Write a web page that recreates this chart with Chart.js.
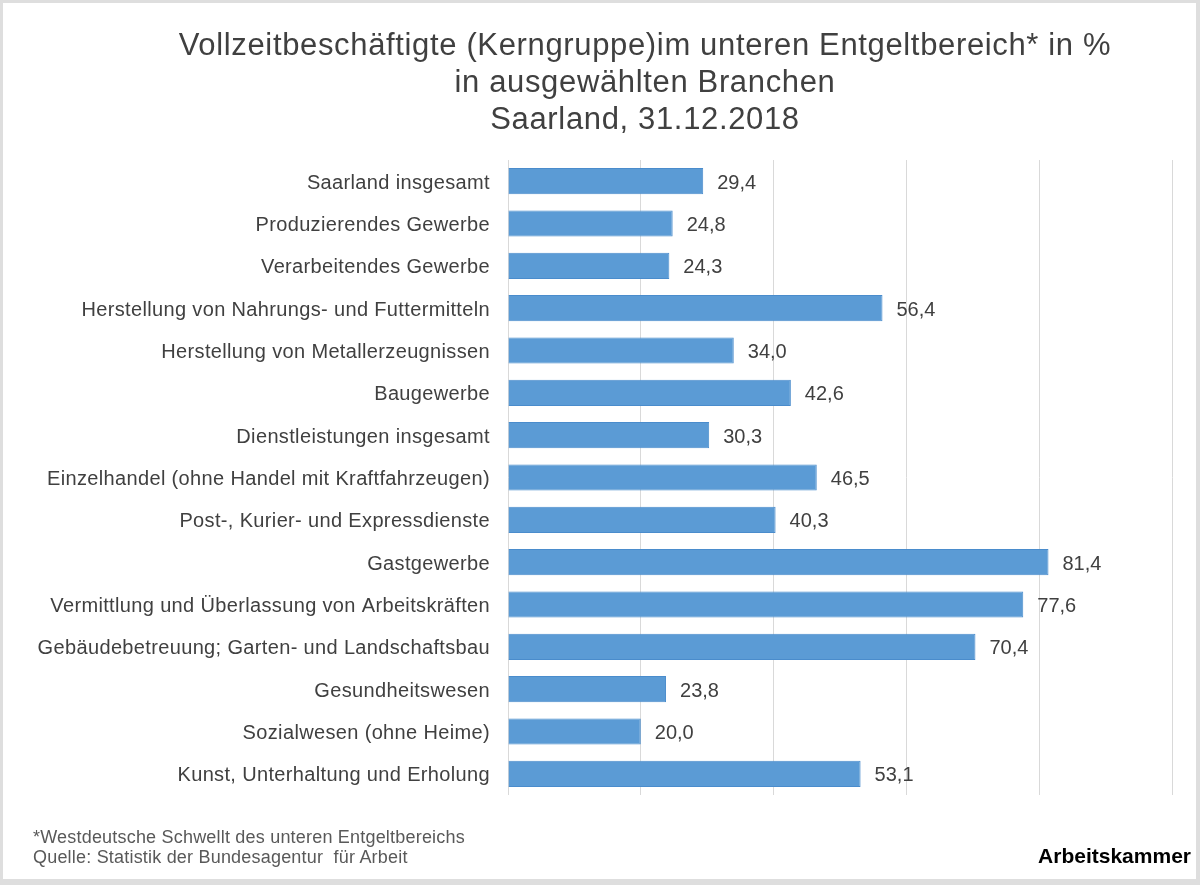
<!DOCTYPE html>
<html lang="de">
<head>
<meta charset="utf-8">
<title>Vollzeitbeschäftigte im unteren Entgeltbereich</title>
<script src="https://cdn.jsdelivr.net/npm/chart.js@4/dist/chart.umd.min.js"></script>
<style>
  html, body { margin: 0; padding: 0; background: #fff; }
  #wrap { position: relative; width: 1200px; height: 885px; overflow: hidden; font-family: "Liberation Sans", Arial, sans-serif; }
  #wrap canvas { position: absolute; left: 0; top: 0; }
  #frame { position: absolute; left: 0; top: 0; width: 1200px; height: 885px; box-sizing: border-box; border: 3px solid #dedede; border-right-width: 4px; border-bottom-width: 6px; pointer-events: none; }
  #title { position: absolute; left: 145px; width: 1000px; top: 26px; text-align: center; color: #404040; font-size: 31px; line-height: 37px; letter-spacing: 0.65px; white-space: nowrap; }
  .note { position: absolute; left: 33px; color: #595959; font-size: 18px; line-height: 18px; letter-spacing: 0.2px; white-space: nowrap; }
  #brand { position: absolute; right: 9px; top: 845px; font-weight: bold; font-size: 21px; line-height: 21px; color: #000; }
</style>
</head>
<body>
<div id="wrap">
  <canvas id="chart" width="1200" height="885"></canvas>
  <div id="title">Vollzeitbeschäftigte (Kerngruppe)im unteren Entgeltbereich* in %<br>in ausgewählten Branchen<br>Saarland, 31.12.2018</div>
  <div class="note" style="top:828px">*Westdeutsche Schwellt des unteren Entgeltbereichs</div>
  <div class="note" style="top:848px">Quelle: Statistik der Bundesagentur&nbsp; für Arbeit</div>
  <div id="brand">Arbeitskammer</div>
  <div id="frame"></div>
</div>
<script>
const branchen = [
  'Saarland insgesamt',
  'Produzierendes Gewerbe',
  'Verarbeitendes Gewerbe',
  'Herstellung von Nahrungs- und Futtermitteln',
  'Herstellung von Metallerzeugnissen',
  'Baugewerbe',
  'Dienstleistungen insgesamt',
  'Einzelhandel (ohne Handel mit Kraftfahrzeugen)',
  'Post-, Kurier- und Expressdienste',
  'Gastgewerbe',
  'Vermittlung und Überlassung von Arbeitskräften',
  'Gebäudebetreuung; Garten- und Landschaftsbau',
  'Gesundheitswesen',
  'Sozialwesen (ohne Heime)',
  'Kunst, Unterhaltung und Erholung'
];
const anteile = [29.4, 24.8, 24.3, 56.4, 34.0, 42.6, 30.3, 46.5, 40.3, 81.4, 77.6, 70.4, 23.8, 20.0, 53.1];
const xMin = 0, xMax = 100, xStep = 20;

const FONT = '"Liberation Sans", Arial, sans-serif';

// etwas Laufweite fuer die Achsenbeschriftung
const spacing = {
  id: 'spacing',
  beforeDraw(chart) { chart.ctx.letterSpacing = '0.35px'; },
  afterDraw(chart) { chart.ctx.letterSpacing = '0px'; }
};

// Werte rechts neben die Balken schreiben
const barLabels = {
  id: 'barLabels',
  afterDatasetsDraw(chart) {
    const ctx = chart.ctx;
    const meta = chart.getDatasetMeta(0);
    ctx.save();
    ctx.letterSpacing = '0px';
    ctx.font = '20px ' + FONT;
    ctx.fillStyle = '#404040';
    ctx.textAlign = 'left';
    ctx.textBaseline = 'middle';
    meta.data.forEach((bar, i) => {
      ctx.fillText(anteile[i].toFixed(1).replace('.', ','), bar.x + 14, bar.y + 2);
    });
    ctx.restore();
  }
};

new Chart(document.getElementById('chart'), {
  type: 'bar',
  data: {
    labels: branchen,
    datasets: [{
      data: anteile,
      backgroundColor: '#5b9bd5',
      borderColor: '#4a8ccc',
      borderWidth: 1,
      categoryPercentage: 1,
      barPercentage: 0.62
    }]
  },
  options: {
    indexAxis: 'y',
    responsive: false,
    animation: false,
    layout: { padding: { top: 160, bottom: 90, left: 0, right: 28 } },
    plugins: {
      legend: { display: false },
      title: { display: false },
      tooltip: { enabled: false }
    },
    scales: {
      x: {
        min: xMin,
        max: xMax,
        ticks: { stepSize: xStep, display: false },
        grid: { color: '#d9d9d9', drawTicks: false },
        border: { display: false }
      },
      y: {
        afterFit(scale) { scale.width = 508; },
        ticks: {
          color: '#404040',
          padding: 18,
          labelOffset: 2,
          font: { family: FONT, size: 20 }
        },
        grid: { display: false, drawTicks: false },
        border: { display: false }
      }
    }
  },
  plugins: [spacing, barLabels]
});
</script>
</body>
</html>
